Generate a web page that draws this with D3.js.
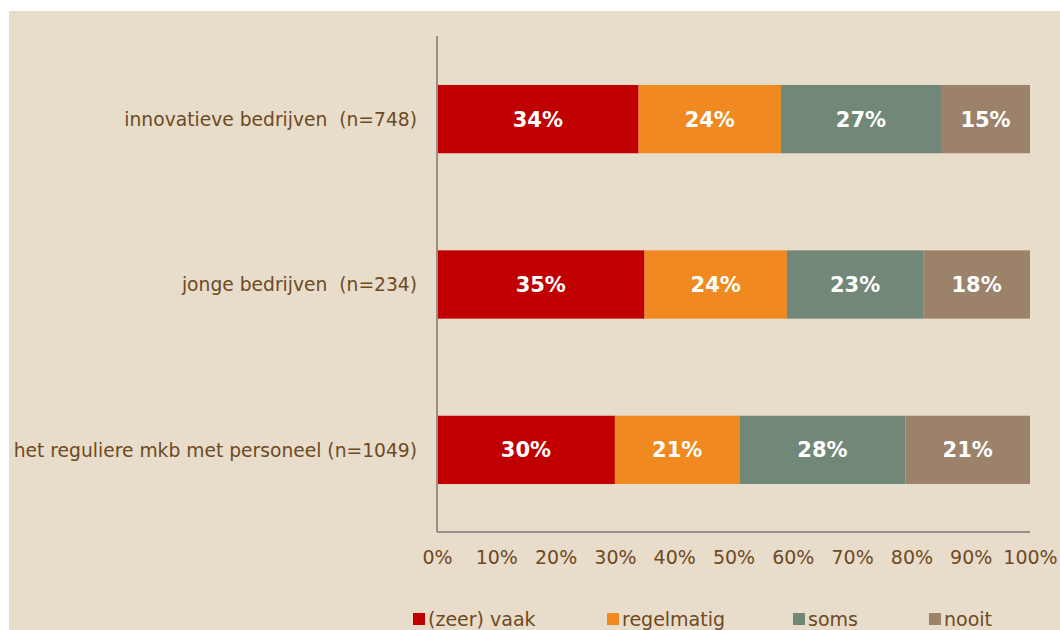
<!DOCTYPE html>
<html>
<head>
<meta charset="utf-8">
<script src="https://cdn.jsdelivr.net/npm/d3@7"></script>
<style>
  html, body { margin: 0; padding: 0; background: #ffffff; }
  svg { display: block; }
  text { font-family: "DejaVu Sans", Verdana, sans-serif; }
</style>
</head>
<body>
<svg id="chart" width="1060" height="630"></svg>
<script>
// Groups of companies (top to bottom)
const categories = [
  "innovatieve bedrijven  (n=748)",
  "jonge bedrijven  (n=234)",
  "het reguliere mkb met personeel (n=1049)"
];
// Answer categories (stack order, left to right)
const seriesNames = ["(zeer) vaak", "regelmatig", "soms", "nooit"];
// Shares per group, in percent
const zeerVaak   = [34, 35, 30];
const regelmatig = [24, 24, 21];
const soms       = [27, 23, 28];
const nooit      = [15, 18, 21];
const xTicks = [0, 10, 20, 30, 40, 50, 60, 70, 80, 90, 100];

const colors = ["#c00000", "#f0891f", "#718878", "#9c826a"];
const textColor = "#6e4a22";
const fontSize = 19;

const rows = categories.map((c, i) => ({
  cat: c,
  "(zeer) vaak": zeerVaak[i],
  "regelmatig": regelmatig[i],
  "soms": soms[i],
  "nooit": nooit[i]
}));

const svg = d3.select("#chart");
// Panel background
svg.append("rect").attr("x", 9).attr("y", 11).attr("width", 1051).attr("height", 619)
  .attr("fill", "#e8dccb");

const x = d3.scaleLinear().domain([0, 100]).range([437, 1030]);
const y = d3.scaleBand().domain(categories).range([37, 532]).paddingInner(0.587).paddingOuter(0.29);

const stack = d3.stack().keys(seriesNames)(rows);

const layers = svg.append("g").selectAll("g").data(stack).join("g")
  .attr("fill", (d, i) => colors[i]);

layers.selectAll("rect").data(d => d).join("rect")
  .attr("x", d => x(d[0]))
  .attr("y", d => y(d.data.cat))
  .attr("width", d => x(d[1]) - x(d[0]))
  .attr("height", y.bandwidth());

layers.selectAll("text").data(d => d.map(v => ({ v, key: d.key }))).join("text")
  .attr("x", d => (x(d.v[0]) + x(d.v[1])) / 2)
  .attr("y", d => y(d.v.data.cat) + y.bandwidth() / 2)
  .attr("dy", "0.36em")
  .attr("text-anchor", "middle")
  .attr("fill", "#ffffff")
  .attr("font-weight", "bold")
  .attr("font-size", 21)
  .text(d => d.v.data[d.key] + "%");

// Category axis line (left) and value axis line (bottom)
svg.append("line").attr("x1", 437).attr("x2", 437).attr("y1", 36).attr("y2", 532)
  .attr("stroke", "#9a8f86").attr("stroke-width", 2);
svg.append("line").attr("x1", 437).attr("x2", 1030).attr("y1", 532).attr("y2", 532)
  .attr("stroke", "#9a8f86").attr("stroke-width", 2);

// Category labels
svg.append("g").selectAll("text").data(categories).join("text")
  .attr("x", 417)
  .attr("y", d => y(d) + y.bandwidth() / 2)
  .attr("dy", "0.36em")
  .attr("text-anchor", "end")
  .attr("fill", textColor)
  .attr("font-size", 18.7)
  .style("white-space", "pre")
  .attr("xml:space", "preserve")
  .text(d => d);

// Value tick labels
const xAxis = d3.axisBottom(x).tickValues(xTicks).tickFormat(d => d + "%").tickSize(0).tickPadding(0);
const gx = svg.append("g").attr("transform", "translate(0,557)").call(xAxis);
gx.select(".domain").remove();
gx.selectAll("text")
  .attr("fill", textColor)
  .attr("font-size", fontSize)
  .attr("dy", "0.36em")
  .attr("y", 0)
  .style("font-family", "\"DejaVu Sans\", Verdana, sans-serif");

// Legend
const legendX = [413, 607, 793, 929];
const legend = svg.append("g").selectAll("g").data(seriesNames).join("g")
  .attr("transform", (d, i) => `translate(${legendX[i]},619)`);
legend.append("rect").attr("x", 0).attr("y", -6).attr("width", 12).attr("height", 12)
  .attr("fill", (d, i) => colors[i]);
legend.append("text").attr("x", 15).attr("y", 0).attr("dy", "0.36em")
  .attr("fill", textColor).attr("font-size", fontSize).text(d => d);
</script>
</body>
</html>
